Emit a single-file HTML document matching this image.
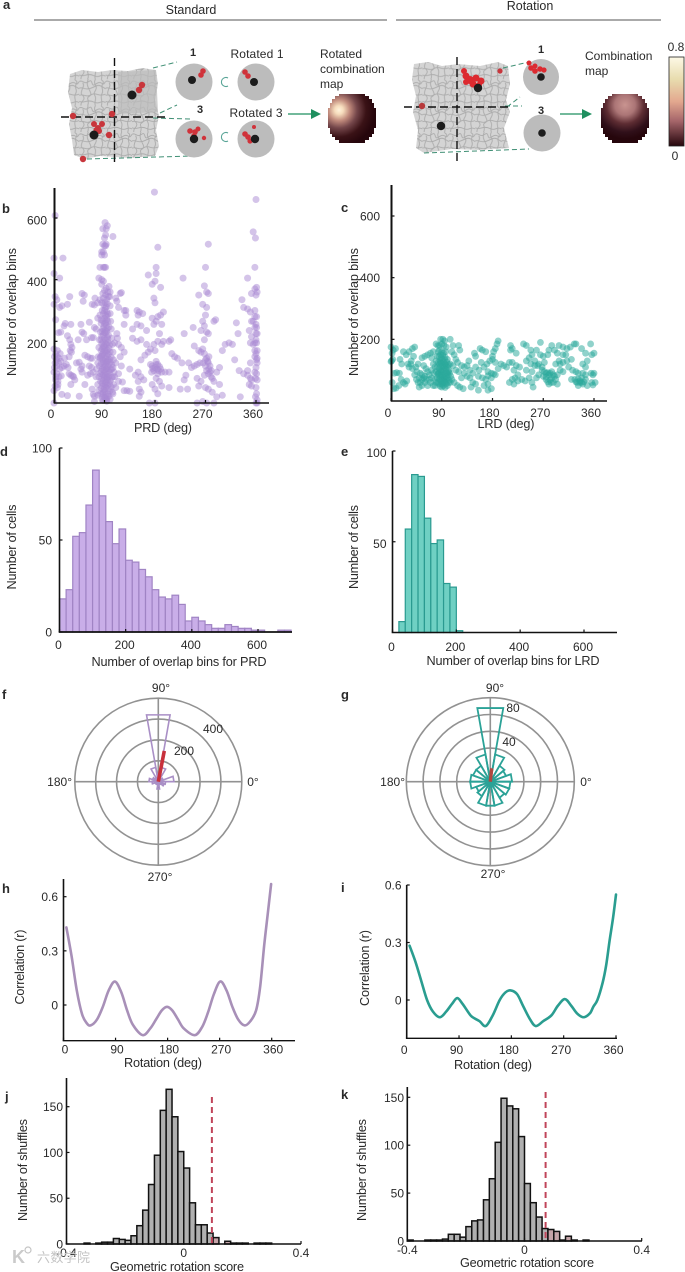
<!DOCTYPE html>
<html lang="en">
<head>
<meta charset="utf-8">
<title>Rotation analysis figure</title>
<style>
html,body{margin:0;padding:0;background:#fff;}
svg{display:block;font-family:"Liberation Sans","Noto Sans CJK SC",sans-serif;}
text{fill:#2a2a2a;}
</style>
</head>
<body>
<svg id="figure" xmlns="http://www.w3.org/2000/svg" width="685" height="1272" viewBox="0 0 685 1272">
<defs>
  <pattern id="traj" width="44" height="44" patternUnits="userSpaceOnUse" patternTransform="scale(.6)">
    <rect width="44" height="44" fill="#d4d4d4"/>
    <path d="M0 4C5 0 8 9 14 5S20 2 22 8 30 3 36 6 40 9 44 4M3 44C2 36 9 37 8 31S2 28 4 20 9 12 6 6M14 44C18 35 11 32 16 29S20 24 17 18 12 8 15 0M27 44C24 38 30 33 26 27S31 18 28 12 25 4 27 0M37 44C40 36 34 30 38 24S35 14 39 8 36 3 37 0M0 15C6 12 10 20 22 14S34 10 44 16M0 27C7 24 12 31 20 26S32 30 44 25M0 37C8 41 14 33 24 38S36 34 44 39" stroke="#ababab" stroke-width="1.500" fill="none"/>
  </pattern>
  <radialGradient id="heatA" gradientUnits="userSpaceOnUse" cx="339" cy="110" r="36">
    <stop offset="0" stop-color="#fff3dc"/><stop offset=".12" stop-color="#f6dcbc"/><stop offset=".3" stop-color="#c08a7c"/><stop offset=".5" stop-color="#74464a"/><stop offset=".75" stop-color="#3a1216"/><stop offset="1" stop-color="#26060c"/>
  </radialGradient>
  <radialGradient id="heatB" gradientUnits="userSpaceOnUse" cx="352" cy="105" r="34">
    <stop offset="0" stop-color="#c99490"/><stop offset=".3" stop-color="#ab7576"/><stop offset=".55" stop-color="#5e2d33"/><stop offset=".8" stop-color="#30101a"/><stop offset="1" stop-color="#26060c"/>
  </radialGradient>
  <linearGradient id="cbar" x1="0" y1="0" x2="0" y2="1">
    <stop offset="0" stop-color="#fdf9e6"/><stop offset=".25" stop-color="#e8dcae"/><stop offset=".5" stop-color="#e3a88f"/><stop offset=".72" stop-color="#a5656a"/><stop offset="1" stop-color="#26060c"/>
  </linearGradient>
  <polygon id="heatShape" points="339,94 365,94 365,96 369,96 369,99 372,99 372,103 374,103 374,108 376,108 376,128 374,128 374,134 372,134 372,137 369,137 369,140 365,140 365,143 339,143 339,140 335,140 335,137 332,137 332,134 330,134 330,128 328,128 328,108 330,108 330,103 332,103 332,99 335,99 335,96 339,96"/>
</defs>

<g id="panel-a">
  <text x="191" y="14" font-size="12.500" text-anchor="middle">Standard</text>
  <text x="530" y="10" font-size="12.500" text-anchor="middle">Rotation</text>
  <line x1="34" y1="20" x2="387" y2="20" stroke="#555" stroke-width="1"/>
  <line x1="396" y1="20" x2="661" y2="20" stroke="#555" stroke-width="1"/>

  <path d="M70 74L82 70L98 72L112 70L128 71L142 68L156 70L158 84L155 100L159 116L156 130L159 146L155 156L130 158L100 156L84 159L74 155L72 140L69 124L72 108L68 92Z" fill="url(#traj)"/>
  <path d="M118 72L156 70L158 112L118 114Z" fill="#bcbcbc" opacity=".7"/>
  <g stroke="#3f8f74" stroke-width="1" stroke-dasharray="5 3" fill="none">
    <path d="M153 68L177 62M160 113L177 105M153 118L190 119M87 159L192 156"/>
  </g>
  <g stroke="#111" stroke-width="1.400" stroke-dasharray="8 4" fill="none">
    <path d="M114.500 58V163M61 117H168"/>
  </g>
  <g fill="#c8363c">
    <circle cx="73" cy="116" r="3.200"/><circle cx="112" cy="114" r="3.200"/><circle cx="83" cy="159" r="3.200"/><circle cx="109" cy="135" r="3.200"/>
    <circle cx="142" cy="85" r="3.200"/><circle cx="139" cy="90" r="3.200"/>
    <circle cx="94" cy="124" r="3"/><circle cx="98" cy="128" r="3"/><circle cx="102" cy="124" r="3"/><circle cx="99" cy="131" r="3"/><circle cx="96" cy="130" r="2.600"/>
  </g>
  <circle cx="132" cy="95" r="4.500" fill="#1c1c1c"/>
  <circle cx="94" cy="135" r="4.500" fill="#1c1c1c"/>

  <circle cx="194" cy="82" r="18.500" fill="#bcbcbc"/>
  <circle cx="194" cy="139" r="18.500" fill="#bcbcbc"/>
  <circle cx="256" cy="82" r="18.500" fill="#bcbcbc"/>
  <circle cx="256" cy="139" r="18.500" fill="#bcbcbc"/>
  <g fill="#d0323a">
    <circle cx="203" cy="71" r="2.800"/><circle cx="201" cy="75" r="2.800"/>
    <circle cx="190" cy="131" r="2.800"/><circle cx="195" cy="132" r="2.800"/><circle cx="194" cy="136" r="2.800"/><circle cx="198" cy="129" r="2.500"/><circle cx="204" cy="138" r="2.200"/>
    <circle cx="245" cy="72" r="2.800"/><circle cx="248" cy="76" r="2.800"/>
    <circle cx="245" cy="134" r="2.800"/><circle cx="248" cy="137" r="2.800"/><circle cx="250" cy="141" r="2.600"/><circle cx="254" cy="127" r="2"/>
  </g>
  <g fill="#1c1c1c">
    <circle cx="192" cy="80" r="4"/><circle cx="194" cy="139" r="4.200"/><circle cx="254" cy="82" r="4"/><circle cx="255" cy="139" r="4.200"/>
  </g>
  <text x="193" y="56" font-size="11" font-weight="bold" text-anchor="middle">1</text>
  <text x="200" y="113" font-size="11" font-weight="bold" text-anchor="middle">3</text>
  <text x="257" y="58" font-size="12" text-anchor="middle" textLength="53">Rotated 1</text>
  <text x="256" y="117" font-size="12" text-anchor="middle" textLength="53">Rotated 3</text>
  <path d="M228 78A4.500 4.500 0 1 0 228 86" stroke="#5aa597" stroke-width="1.100" fill="none"/>
  <path d="M228 133A4.500 4.500 0 1 0 228 141" stroke="#5aa597" stroke-width="1.100" fill="none"/>
  <line x1="288" y1="114" x2="312" y2="114" stroke="#1f8f5f" stroke-width="1.300"/>
  <polygon points="311,109 321,114 311,119" fill="#1f8f5f"/>
  <g font-size="12">
    <text x="320" y="58">Rotated</text><text x="320" y="73">combination</text><text x="320" y="88">map</text>
  </g>
  <use href="#heatShape" fill="url(#heatA)"/>

  <path d="M414 64L428 62L442 66L458 64L480 66L498 62L508 66L510 84L506 100L510 112L504 128L509 148L480 150L452 149L424 153L416 148L418 130L413 112L416 96L412 80Z" fill="url(#traj)"/>
  <g stroke="#3f8f74" stroke-width="1" stroke-dasharray="5 3" fill="none">
    <path d="M503 68L529 62M507 107L520 97M505 106L522 106M424 153L529 149"/>
  </g>
  <g stroke="#111" stroke-width="1.400" stroke-dasharray="8 4" fill="none">
    <path d="M457 57V162M404 107H511"/>
  </g>
  <g fill="#dc2a30">
    <circle cx="464" cy="71" r="3"/><circle cx="466" cy="76" r="3.500"/><circle cx="470" cy="80" r="4"/><circle cx="476" cy="78" r="3.500"/><circle cx="481" cy="81" r="3.500"/><circle cx="473" cy="84" r="3.500"/><circle cx="466" cy="82" r="3"/><circle cx="479" cy="85" r="3"/>
    <circle cx="500" cy="71" r="2.600" fill="#c8363c"/><circle cx="422" cy="106" r="3.200" fill="#b83a3c"/>
  </g>
  <circle cx="478" cy="88" r="4.200" fill="#1c1c1c"/>
  <circle cx="441" cy="126" r="4.200" fill="#1c1c1c"/>
  <circle cx="542" cy="133" r="18.500" fill="#bcbcbc"/>
  <circle cx="541" cy="77" r="18" fill="#bcbcbc"/>
  <g fill="#dc2a30">
    <circle cx="529" cy="63" r="2.500"/><circle cx="531" cy="68" r="2.800"/><circle cx="535" cy="71" r="2.800"/><circle cx="540" cy="69" r="2.800"/><circle cx="544" cy="70" r="2.600"/><circle cx="535" cy="66" r="2.500"/>
  </g>
  <circle cx="541" cy="77" r="3.800" fill="#1c1c1c"/>
  <circle cx="542" cy="133" r="3.800" fill="#1c1c1c"/>
  <text x="541" y="53" font-size="11" font-weight="bold" text-anchor="middle">1</text>
  <text x="541" y="114" font-size="11" font-weight="bold" text-anchor="middle">3</text>
  <line x1="560" y1="114" x2="583" y2="114" stroke="#1f8f5f" stroke-width="1.300"/>
  <polygon points="582,109 592,114 582,119" fill="#1f8f5f"/>
  <g font-size="12">
    <text x="585" y="60">Combination</text><text x="585" y="75">map</text>
  </g>
  <g transform="translate(273,0)"><use href="#heatShape" fill="url(#heatB)"/></g>
  <rect x="669" y="57" width="15" height="89" fill="url(#cbar)" stroke="#222" stroke-width=".8"/>
  <text x="676" y="51" font-size="12" text-anchor="middle">0.8</text>
  <text x="675" y="160" font-size="12" text-anchor="middle">0</text>
</g>

<g font-size="13" font-weight="bold">
  <text x="3" y="9">a</text>
  <text x="2" y="213">b</text>
  <text x="341" y="212">c</text>
  <text x="0" y="456">d</text>
  <text x="341" y="456">e</text>
  <text x="2" y="699">f</text>
  <text x="341" y="699">g</text>
  <text x="2" y="893">h</text>
  <text x="341" y="892">i</text>
  <text x="5" y="1101">j</text>
  <text x="341" y="1099">k</text>
</g>

<g id="charts"></g>

<g>
  <circle cx="28" cy="1250" r="3" fill="none" stroke="#c4c4c4" stroke-width="1.200"/>
  <text x="12" y="1263" font-size="18" font-weight="bold" style="fill:#cacaca">K</text>
  <text x="37" y="1262" font-size="13" style="fill:#c4c4c4" textLength="53">六数学院</text>
</g>
</svg>

<script>
// ---- panel b: PRD scatter, [degrees, overlap bins]
const prdPoints = [
[2,608],[0,470],[16,470],[0,420],[10,405],[2,345],[5,335],[0,320],[10,310],[3,270],[28,345],[24,320],[14,315],[8,228],[12,230],[0,175],[3,160],[6,150],[9,145],[12,135],[2,130],[5,120],[14,115],[18,120],[22,125],[25,115],[0,100],[5,95],[9,85],[13,88],[3,75],[7,70],[2,55],[6,50],[0,40],[0,0],[14,28],[24,24],[27,95],[30,90],[33,88],[35,85],[30,60],[37,75],[20,258],[18,250],[30,255],[24,218],[28,205],[30,190],[32,180],[29,170],[31,165],[27,150],[19,145],[43,205],[45,132],[40,130],[50,120],[48,110],[50,100],[55,60],[45,22],[50,355],[54,350],[52,330],[48,255],[50,230],[53,225],[58,205],[63,262],[55,155],[60,150],[65,145],[68,145],[63,120],[67,115],[60,90],[65,95],[70,100],[68,45],[70,28],[72,22],[72,5],[68,320],[72,318],[78,325],[73,340],[82,335],[78,275],[72,245],[75,240],[67,212],[70,212],
[85,385],[82,440],[88,440],[90,440],[92,440],[80,405],[85,400],[88,395],[85,490],[88,490],[90,480],[85,480],[92,510],[90,510],[93,515],[87,515],[90,535],[92,545],[93,565],[87,565],[91,585],[95,575],[105,540],
[86,20],[88,35],[90,18],[92,28],[94,12],[96,30],[98,22],[100,40],[84,48],[87,55],[89,44],[91,60],[93,50],[95,58],[97,46],[99,62],[102,52],[83,70],[85,78],[88,72],[90,84],[92,68],[94,80],[96,74],[98,86],[100,72],[103,82],[82,96],[84,102],[86,92],[89,106],[91,98],[93,110],[95,94],[97,104],[99,100],[101,108],[81,120],[84,128],[87,116],[89,130],[92,122],[94,134],[96,118],[98,126],[100,132],[103,124],[82,146],[85,152],[87,140],[90,156],[92,144],[95,150],[97,158],[99,142],[102,148],[84,170],[86,176],[88,164],[91,180],[93,168],[95,172],[98,178],[100,166],[85,192],[87,198],[89,186],[92,204],[94,190],[96,196],[99,188],[85,216],[88,222],[90,210],[92,228],[95,214],[97,220],[87,240],[89,248],[91,236],[93,252],[95,242],[98,246],[87,266],[90,274],[92,260],[94,270],[96,264],[88,290],[90,300],[92,284],[94,296],[96,288],[89,318],[91,326],[93,312],[95,322],[88,340],[92,350],[94,336],[97,345],[90,365],[93,372],[96,360],[98,378],
[87,30],[91,38],[95,20],[86,64],[90,52],[94,66],[88,90],[92,88],[96,84],[86,110],[90,118],[94,112],[88,136],[92,134],[96,138],[86,158],[90,170],[94,160],[88,182],[92,192],[96,208],[90,228],[94,232],[90,258],[94,282],[91,306],
[78,60],[76,110],[79,150],[80,180],[81,205],[83,230],[84,258],[82,285],[78,130],[75,85],[80,40],[78,25],[83,30],[104,35],[106,60],[105,85],[107,100],[106,140],[105,165],[104,190],[103,210],[102,240],[101,265],[100,290],[100,315],[99,345],[86,300],[85,325],[87,355],[100,360],[84,270],[86,232],[84,205],[83,150],[80,85],[103,110],[92,15],[88,8],[94,6],[100,12],[86,10],
[110,340],[112,330],[118,355],[120,358],[115,310],[125,300],[128,300],[128,285],[125,255],[112,225],[113,210],[108,195],[115,190],[120,180],[125,165],[118,150],[110,130],[105,115],[120,120],[115,95],[108,85],[122,68],[125,40],[130,40],[135,38],[115,70],[110,50],[105,30],
[140,240],[140,210],[148,200],[155,205],[148,300],[152,295],[158,290],[150,285],[148,255],[155,250],[135,110],[155,140],[150,100],[145,90],[155,85],[160,75],[150,70],[152,45],[155,35],[152,22],[165,190],[168,165],[162,155],[172,175],[165,235],[168,415],[175,385],[175,275],[178,255],
[182,440],[182,420],[180,395],[178,340],[180,325],[190,375],[185,505],[182,265],[185,280],[190,285],[195,295],[192,255],[188,225],[178,190],[185,200],[192,190],[195,200],[180,170],[175,120],[180,115],[185,125],[190,110],[178,105],[185,95],[192,100],[198,100],[182,80],[188,70],[175,60],[180,45],[192,55],[185,30],[170,0],[180,0],
[172,125],[176,112],[182,125],[184,110],[188,118],[174,100],[186,105],[182,135],
[205,200],[208,205],[210,160],[215,150],[220,145],[228,130],[232,225],[230,405],[225,45],[205,50],[205,100],[235,90],[232,75],[238,45],[240,130],[245,115],[250,120],[255,125],[260,130],[248,245],[250,185],[258,170],[262,165],[255,80],[258,55],[262,70],
[265,320],[268,380],[258,350],[270,440],[272,360],[275,355],[275,515],[272,310],[270,285],[265,265],[268,250],[262,235],[272,230],[275,225],[268,205],[265,175],[268,160],[272,145],[275,130],[278,120],[272,105],[275,95],[268,90],[280,85],[282,80],[285,70],[270,50],[275,45],[282,35],[290,20],[295,60],[300,25],[255,0],[265,5],[272,0],[285,0],[290,100],[295,115],[300,170],[285,265],[288,270],[305,190],[312,195],[318,190],
[270,140],[274,135],[276,110],[278,100],[270,120],[266,130],[280,105],[276,150],
[325,260],[328,225],[322,140],[330,105],[338,95],[332,20],[335,335],[338,310],[345,305],[350,295],[352,355],[345,405],[358,300],[355,265],[352,265],[348,235],[352,215],[350,195],[355,190],[358,195],[345,90],[350,80],[352,75],[348,60],[352,55],[350,130],[345,105],
[355,555],[359,535],[358,440],[360,660],[358,370],[360,350],[362,360],[361,280],[360,255],[361,245],[362,225],[360,205],[361,195],[362,170],[360,160],[358,150],[361,140],[362,130],[358,100],[361,95],[359,80],[362,75],[360,50],[361,30],[359,20],[362,10],[360,0],[362,0],[358,280],[361,375],[179,684],
[360,115],[362,145],[358,170],[360,225],[358,245],
[4,140],[8,130],[10,110],[1,115],[6,170],[11,160],[3,85],[7,60],[1,150]
];
// ---- panel c: LRD scatter, [degrees, overlap bins]
const lrdPoints = [
[0,175],[2,155],[1,130],[0,128],[4,165],[8,170],[3,135],[6,90],[10,92],[15,90],[5,40],[9,42],[14,50],[2,60],[18,70],[22,60],[25,55],[28,65],[16,135],[19,120],[22,160],[27,150],[32,160],[38,170],[42,175],[40,145],[35,120],[32,110],[38,105],[44,110],[48,120],[42,85],[45,70],[50,75],[52,60],[55,50],[50,45],[58,75],[60,80],[62,70],[65,95],[68,85],[62,105],[58,115],[55,140],[60,145],[65,150],[70,155],[75,160],[80,185],[83,180],[72,140],[75,120],[72,100],[70,60],[75,50],[65,50],
[88,200],[92,200],[95,195],[90,185],[94,180],[98,175],[86,165],[90,160],[93,155],[97,160],[85,145],[89,140],[92,148],[96,142],[100,135],[84,125],[87,130],[90,122],[93,128],[96,120],[99,126],[102,118],[82,110],[85,105],[88,112],[91,100],[94,108],[97,104],[100,110],[103,100],[80,95],[83,88],[86,92],[89,85],[92,95],[95,88],[98,92],[101,85],[104,90],[82,75],[85,70],[88,78],[91,72],[94,76],[97,70],[100,74],[103,68],[83,60],[86,55],[89,62],[92,58],[95,64],[98,56],[87,48],[90,45],[93,50],[96,44],[100,50],
[78,70],[76,90],[78,110],[80,130],[82,145],[84,160],[86,180],[88,150],[88,125],[86,120],[84,90],[80,60],[78,50],[106,80],[105,60],[105,120],[102,95],[102,60],[100,90],[98,115],[95,115],[95,135],[92,112],[91,135],[88,100],[89,95],[91,85],[95,75],[93,65],[90,55],[88,68],[86,82],[96,60],[98,80],
[105,200],[110,180],[108,160],[112,150],[115,135],[118,125],[110,115],[115,100],[120,95],[108,70],[112,60],[118,50],[122,45],[128,40],
[125,115],[130,110],[135,115],[122,165],[120,180],[138,130],[140,100],[145,90],[140,75],[145,60],[150,55],[155,35],[142,45],[148,155],[150,145],[158,170],[162,165],[168,160],[160,125],[165,110],[170,120],[155,80],[162,75],[168,70],[172,55],[165,50],[178,40],[172,35],
[175,130],[180,135],[185,170],[188,185],[190,195],[182,160],[180,145],[172,95],[178,90],[182,88],[185,85],[195,120],[200,115],[205,110],[210,60],[215,70],[218,55],
[212,180],[215,170],[222,155],[215,125],[222,115],[228,110],[220,75],[225,65],[232,70],[238,65],[235,185],[240,180],[248,165],[250,150],[258,165],[248,120],[255,115],[260,115],[245,75],[250,60],[252,45],[258,75],[262,85],
[265,190],[270,145],[272,125],[278,150],[280,165],[285,180],[262,120],[268,110],[275,90],[280,85],[270,80],[285,95],[290,80],[295,85],[275,70],[282,68],[288,60],[295,55],[280,55],[290,165],[295,155],[298,130],[292,120],[300,100],[305,95],[298,180],[305,175],[312,170],[318,175],[312,130],[320,135],[325,185],[328,185],[315,110],[322,100],[328,95],[332,90],[320,70],[328,62],[335,60],[340,55],[332,50],[338,75],[345,70],[348,50],[340,120],[345,110],[338,170],[345,155],[348,130],[355,90],[358,85],[360,90],[356,60],[358,52],[362,60],[354,185],[356,150],[360,155],
[275,78],[278,92],[282,90],[285,75],[288,85],[272,95],[278,62],[284,60],[292,70],[268,100],
[332,72],[335,65],[338,60],[330,60],[342,62],[326,70],[340,90],[345,85],
[30,120],[36,130],[46,95],[52,90],[55,85],[60,60],[68,70],[72,75],[48,60],[55,70],
[130,90],[135,80],[125,75],[150,110],[156,100],[185,125],[190,105],[178,75],[172,82],[210,125],[218,100],[225,85],[240,100],[240,130],[250,95],[255,130],[212,165],[245,140],[265,150],[305,150],[310,150],[300,120],[305,125]
];
const degreeTicks = [0, 90, 180, 270, 360];
const overlapTicks = [200, 400, 600];
// ---- panels d, e: histograms
const prdHistCounts = [18,23,52,54,69,88,74,60,48,56,39,38,34,30,23,19,18,20,15,6,8,6,4,2,2,4,3,2,2,1,1,0,0,1,1];
const lrdHistCounts = [0,6,57,87,86,63,49,51,27,25,1];
const cellTicks = [0, 50, 100];
const lrdCellTicks = [50, 100];
const binTicks = [0, 200, 400, 600];
// ---- panels f, g: rose plots, one count per 20-degree sector
const prdRoseCounts = [75,25,20,70,325,70,20,30,45,30,15,10,15,35,15,10,30,35];
const lrdRoseCounts = [26,20,22,33,89,33,22,22,24,24,18,20,29,29,29,22,24,24];
const prdRings = [100,200,300,400];
const lrdRings = [40,60,80,100];
const prdVectorAngle = 79;
const prdVectorLength = 150;
const lrdVectorAngle = 84;
const lrdVectorLength = 16;
// ---- panels h, i: correlation curves
const hRotation = [5,14,23,32,40,47,58,68,78,89,100,110,120,137,150,160,170,179,188,198,208,227,240,250,260,271,282,292,302,313,323,333,340,347,353,359];
const hCorrelation = [.43,.27,.08,-.05,-.10,-.113,-.08,-.01,.08,.13,.07,-.03,-.11,-.167,-.13,-.08,-.03,-.01,-.03,-.08,-.13,-.167,-.12,-.04,.06,.13,.08,-.01,-.08,-.113,-.09,-.03,.10,.33,.50,.67];
const iRotation = [5,15,25,35,45,57,68,78,87,96,105,112,125,136,148,160,170,179,190,200,212,222,235,249,260,272,283,293,304,315,321,328,337,343,349,355,360];
const iCorrelation = [.283,.20,.10,0,-.06,-.09,-.06,-.02,.01,-.02,-.06,-.087,-.11,-.136,-.08,0,.04,.05,.03,-.03,-.10,-.136,-.11,-.08,-.03,.005,-.03,-.07,-.09,-.07,-.035,0,.09,.18,.31,.43,.55];
const hCorrTicks = [0, 0.3, 0.6];
// ---- panels j, k: shuffle histograms, 0.02-wide bins starting at -0.40
const jShuffleCounts = [0,0,0,1,0,1,2,2,6,5,4,9,20,37,65,97,146,169,139,101,83,45,21,21,12,7,0,3,1,1,1,0,1,1,1,0,0,0,0,0];
const kShuffleCounts = [1,0,0,1,1,1,2,7,7,4,15,21,22,43,65,103,149,141,138,109,60,40,25,13,12,10,1,5,1,0,1,0,0,0,0,0,0,0,0,0];
const shuffleTicks = [0, 50, 100, 150];
const scoreTicks = [-0.4, 0, 0.4];
const jObservedScore = 0.096;
const kObservedScore = 0.072;

const NS = 'http://www.w3.org/2000/svg';
const host = document.getElementById('charts');

function linear(d0, d1, r0, r1) {
  return function (v) { return r0 + (v - d0) * (r1 - r0) / (d1 - d0); };
}
function mk(tag, attrs, parent) {
  const el = document.createElementNS(NS, tag);
  for (const k in attrs) el.setAttribute(k, attrs[k]);
  (parent || host).appendChild(el);
  return el;
}
function group(name) {
  const el = mk('g', {});
  
  
  return el;
}
function axisTitle(parent, txt, x, y, len, rotated) {
  const attrs = { x: x, y: y, 'font-size': 12.7, 'text-anchor': 'middle', textLength: len };
  if (rotated) attrs.transform = 'rotate(-90 ' + x + ' ' + y + ')';
  const el = mk('text', attrs, parent);
  el.textContent = txt;
  
  
}
function drawAxes(parent, c) {
  const yAxis = mk('line', { x1: c.x0, x2: c.x0, y1: c.yTop, y2: c.yBottom, stroke: '#111', 'stroke-width': c.yWidth || 1.6 }, parent);
  
  
  const xAxis = mk('line', { x1: c.x0 - 0.8, x2: c.xEnd, y1: c.yBottom, y2: c.yBottom, stroke: '#111', 'stroke-width': c.xWidth || 1.4 }, parent);
  
  
  c.xTicks.forEach(function (v) {
    const tick = mk('line', { x1: c.x(v), x2: c.x(v), y1: c.yBottom, y2: c.yBottom - 3, stroke: '#111', 'stroke-width': 1.2 }, parent);
    
    
    const lab = mk('text', { x: c.x(v) + (c.xLabelDx || 0), y: c.xLabelY, 'font-size': 12, 'text-anchor': 'middle' }, parent);
    lab.textContent = String(v);
    
    
  });
  c.yTicks.forEach(function (v) {
    const tick = mk('line', { x1: c.x0, x2: c.x0 + 3, y1: c.y(v), y2: c.y(v), stroke: '#111', 'stroke-width': 1.2 }, parent);
    
    
    const lab = mk('text', { x: c.yLabelX, y: c.y(v) + 4.5 + (c.yLabelDy || 0), 'font-size': 12, 'text-anchor': 'end' }, parent);
    lab.textContent = String(v);
    
    
  });
  axisTitle(parent, c.xTitle, c.xTitleX, c.xTitleY, c.xTitleLen, false);
  axisTitle(parent, c.yTitle, c.yTitleX, c.yTitleY, c.yTitleLen, true);
}
function drawScatter(name, points, c, color, radius, opacity) {
  const g = group(name);
  points.forEach(function (p) {
    const dot = mk('circle', { cx: c.x(p[0]), cy: c.y(p[1]), r: radius, fill: color, 'fill-opacity': opacity }, g);
    
    
  });
  drawAxes(g, c);
}
function drawHistogram(name, counts, start, width, c, fill, stroke, strokeWidth, threshold) {
  const g = group(name);
  counts.forEach(function (n, i) {
    if (!n) return;
    const lo = start + i * width;
    const left = c.x(lo);
    const right = c.x(lo + width);
    const tinted = threshold !== undefined && lo + width / 2 > threshold;
    const bar = mk('rect', { x: left, y: c.y(n), width: right - left, height: c.y(0) - c.y(n), fill: tinted ? '#c4a4a8' : fill, stroke: stroke, 'stroke-width': strokeWidth }, g);
    
    
  });
  drawAxes(g, c);
  if (threshold !== undefined) {
    const dash = mk('line', { x1: c.x(threshold), x2: c.x(threshold), y1: c.dashTop, y2: c.yBottom, stroke: '#c0455a', 'stroke-width': 2, 'stroke-dasharray': '6 4' }, g);
    
    
  }
}
function drawRose(name, counts, rings, c) {
  const g = group(name);
  const outer = c.r(rings[rings.length - 1]);
  rings.forEach(function (v) {
    const ring = mk('circle', { cx: c.cx, cy: c.cy, r: c.r(v), fill: 'none', stroke: '#929292', 'stroke-width': 1.6 }, g);
    
    
  });
  const cross = mk('path', { d: 'M' + (c.cx - outer) + ' ' + c.cy + 'H' + (c.cx + outer) + 'M' + c.cx + ' ' + (c.cy - outer) + 'V' + (c.cy + outer), stroke: '#929292', 'stroke-width': 1.6, fill: 'none' }, g);
  
  
  counts.forEach(function (n, i) {
    const a0 = i * 20 * Math.PI / 180;
    const a1 = (i + 1) * 20 * Math.PI / 180;
    const r = c.r(n);
    const pts = [[c.cx, c.cy], [c.cx + r * Math.cos(a0), c.cy - r * Math.sin(a0)], [c.cx + r * Math.cos(a1), c.cy - r * Math.sin(a1)]];
    const petal = mk('polygon', { points: pts.map(function (p) { return p.join(','); }).join(' '), fill: 'none', stroke: c.color, 'stroke-width': c.petalWidth }, g);
    
    
  });
  const va = c.vectorAngle * Math.PI / 180;
  const vec = mk('line', { x1: c.cx, y1: c.cy, x2: c.cx + c.r(c.vectorLength) * Math.cos(va), y2: c.cy - c.r(c.vectorLength) * Math.sin(va), stroke: c.vectorColor, 'stroke-width': c.vectorWidth }, g);
  
  
  c.labels.forEach(function (l) {
    const t = mk('text', { x: l[1], y: l[2], 'font-size': 12, 'text-anchor': l[3] }, g);
    t.textContent = l[0];
    
    
  });
}
function smoothPath(pts) {
  let d = 'M' + pts[0][0].toFixed(2) + ' ' + pts[0][1].toFixed(2);
  for (let i = 0; i < pts.length - 1; i++) {
    const p0 = pts[Math.max(i - 1, 0)], p1 = pts[i], p2 = pts[i + 1], p3 = pts[Math.min(i + 2, pts.length - 1)];
    d += 'C' + (p1[0] + (p2[0] - p0[0]) / 6).toFixed(2) + ' ' + (p1[1] + (p2[1] - p0[1]) / 6).toFixed(2) + ' ' +
         (p2[0] - (p3[0] - p1[0]) / 6).toFixed(2) + ' ' + (p2[1] - (p3[1] - p1[1]) / 6).toFixed(2) + ' ' +
         p2[0].toFixed(2) + ' ' + p2[1].toFixed(2);
  }
  return d;
}
function drawCurve(name, xs, ys, c, color) {
  const g = group(name);
  drawAxes(g, c);
  const pts = xs.map(function (v, i) { return [c.x(v), c.y(ys[i])]; });
  const line = mk('path', { d: smoothPath(pts), fill: 'none', stroke: color, 'stroke-width': 2.6, 'stroke-linecap': 'round' }, g);
  
  
}

drawScatter('panel-b-prd-scatter', prdPoints, {
  x: linear(0, 360, 54, 256), y: linear(0, 600, 403, 218), x0: 54.5, xEnd: 269, yTop: 188, yBottom: 403, yWidth: 2,
  xTicks: degreeTicks, yTicks: overlapTicks, xLabelDx: -3, xLabelY: 418, yLabelX: 47, yLabelDy: 2,
  xTitle: 'PRD (deg)', xTitleX: 163, xTitleY: 432, xTitleLen: 58,
  yTitle: 'Number of overlap bins', yTitleX: 16, yTitleY: 312, yTitleLen: 128
}, '#a98ad4', 3.5, 0.5);

drawScatter('panel-c-lrd-scatter', lrdPoints, {
  x: linear(0, 360, 391, 594), y: linear(0, 600, 401, 216), x0: 391.5, xEnd: 607, yTop: 185, yBottom: 401, yWidth: 2,
  xTicks: degreeTicks, yTicks: overlapTicks, xLabelDx: -3, xLabelY: 417, yLabelX: 380, yLabelDy: 0,
  xTitle: 'LRD (deg)', xTitleX: 506, xTitleY: 428, xTitleLen: 57,
  yTitle: 'Number of overlap bins', yTitleX: 358, yTitleY: 312, yTitleLen: 128
}, '#2aa99b', 3.4, 0.52);

drawHistogram('panel-d-prd-histogram', prdHistCounts, 0, 20, {
  x: linear(0, 600, 59.5, 258), y: linear(0, 100, 632, 448), x0: 59.5, xEnd: 292, yTop: 448, yBottom: 632, xWidth: 1.8,
  xTicks: binTicks, yTicks: cellTicks, xLabelDx: -1, xLabelY: 649, yLabelX: 52, yLabelDy: 0,
  xTitle: 'Number of overlap bins for PRD', xTitleX: 179, xTitleY: 666, xTitleLen: 175,
  yTitle: 'Number of cells', yTitleX: 16, yTitleY: 547, yTitleLen: 85
}, '#c9aee8', '#a084c4', 1.2);

drawHistogram('panel-e-lrd-histogram', lrdHistCounts, 0, 20, {
  x: linear(0, 600, 392.5, 584), y: linear(0, 100, 632.5, 451), x0: 392.5, xEnd: 617, yTop: 451, yBottom: 632.5,
  xTicks: binTicks, yTicks: lrdCellTicks, xLabelDx: -1, xLabelY: 651, yLabelX: 386.5, yLabelDy: 1.5,
  xTitle: 'Number of overlap bins for LRD', xTitleX: 513, xTitleY: 665, xTitleLen: 173,
  yTitle: 'Number of cells', yTitleX: 358, yTitleY: 547, yTitleLen: 84
}, '#6fd0c3', '#2a9a90', 1.2);

drawRose('panel-f-prd-rose', prdRoseCounts, prdRings, {
  cx: 158.3, cy: 781.7, r: linear(0, 400, 0, 83.5), color: '#a98fc6', petalWidth: 1.6,
  vectorAngle: prdVectorAngle, vectorLength: prdVectorLength, vectorColor: '#c8303c', vectorWidth: 3.6,
  labels: [['90°', 161, 692, 'middle'], ['0°', 253, 786, 'middle'], ['180°', 72, 786, 'end'], ['270°', 160, 881, 'middle'], ['400', 213, 733, 'middle'], ['200', 184, 755, 'middle']]
});

drawRose('panel-g-lrd-rose', lrdRoseCounts, lrdRings, {
  cx: 490.3, cy: 781.7, r: linear(0, 100, 0, 84), color: '#2ba297', petalWidth: 1.8,
  vectorAngle: lrdVectorAngle, vectorLength: lrdVectorLength, vectorColor: '#b0473f', vectorWidth: 3.4,
  labels: [['90°', 495, 692, 'middle'], ['0°', 586, 786, 'middle'], ['180°', 405, 786, 'end'], ['270°', 493, 878, 'middle'], ['80', 513, 712, 'middle'], ['40', 509, 746, 'middle']]
});

drawCurve('panel-h-prd-correlation', hRotation, hCorrelation, {
  x: linear(0, 360, 63.5, 271.7), y: linear(0, 0.6, 1005, 896.7), x0: 63.5, xEnd: 295, yTop: 879, yBottom: 1040.7,
  xTicks: degreeTicks, yTicks: hCorrTicks, xLabelDx: 1.5, xLabelY: 1053.5, yLabelX: 58, yLabelDy: 0,
  xTitle: 'Rotation (deg)', xTitleX: 163, xTitleY: 1067, xTitleLen: 78,
  yTitle: 'Correlation (r)', yTitleX: 24, yTitleY: 967, yTitleLen: 75
}, '#a890b8');

drawCurve('panel-i-lrd-correlation', iRotation, iCorrelation, {
  x: linear(0, 360, 406.7, 616), y: linear(0, 0.6, 1000, 885), x0: 406.7, xEnd: 617, yTop: 885, yBottom: 1038.3,
  xTicks: degreeTicks, yTicks: hCorrTicks, xLabelDx: -2.5, xLabelY: 1054, yLabelX: 401.5, yLabelDy: 0,
  xTitle: 'Rotation (deg)', xTitleX: 493, xTitleY: 1069, xTitleLen: 78,
  yTitle: 'Correlation (r)', yTitleX: 369, yTitleY: 968, yTitleLen: 76
}, '#2a9d90');

drawHistogram('panel-j-prd-shuffles', jShuffleCounts, -0.4, 0.02, {
  x: linear(-0.4, 0.4, 66.5, 301), y: linear(0, 150, 1244, 1106.7), x0: 66.5, xEnd: 301, yTop: 1078, yBottom: 1244, dashTop: 1097,
  xTicks: scoreTicks, yTicks: shuffleTicks, xLabelDx: 0, xLabelY: 1257, yLabelX: 63, yLabelDy: 0,
  xTitle: 'Geometric rotation score', xTitleX: 177, xTitleY: 1271, xTitleLen: 134,
  yTitle: 'Number of shuffles', yTitleX: 27, yTitleY: 1170, yTitleLen: 102
}, '#b0b0b0', '#111', 1.5, jObservedScore);

drawHistogram('panel-k-lrd-shuffles', kShuffleCounts, -0.4, 0.02, {
  x: linear(-0.4, 0.4, 407.3, 641.7), y: linear(0, 150, 1241, 1097.3), x0: 407.3, xEnd: 642, yTop: 1087, yBottom: 1241, dashTop: 1092,
  xTicks: scoreTicks, yTicks: shuffleTicks, xLabelDx: 0, xLabelY: 1254, yLabelX: 404, yLabelDy: 0,
  xTitle: 'Geometric rotation score', xTitleX: 527, xTitleY: 1267, xTitleLen: 134,
  yTitle: 'Number of shuffles', yTitleX: 366, yTitleY: 1170, yTitleLen: 102
}, '#b0b0b0', '#111', 1.5, kObservedScore);
</script>
</body>
</html>
